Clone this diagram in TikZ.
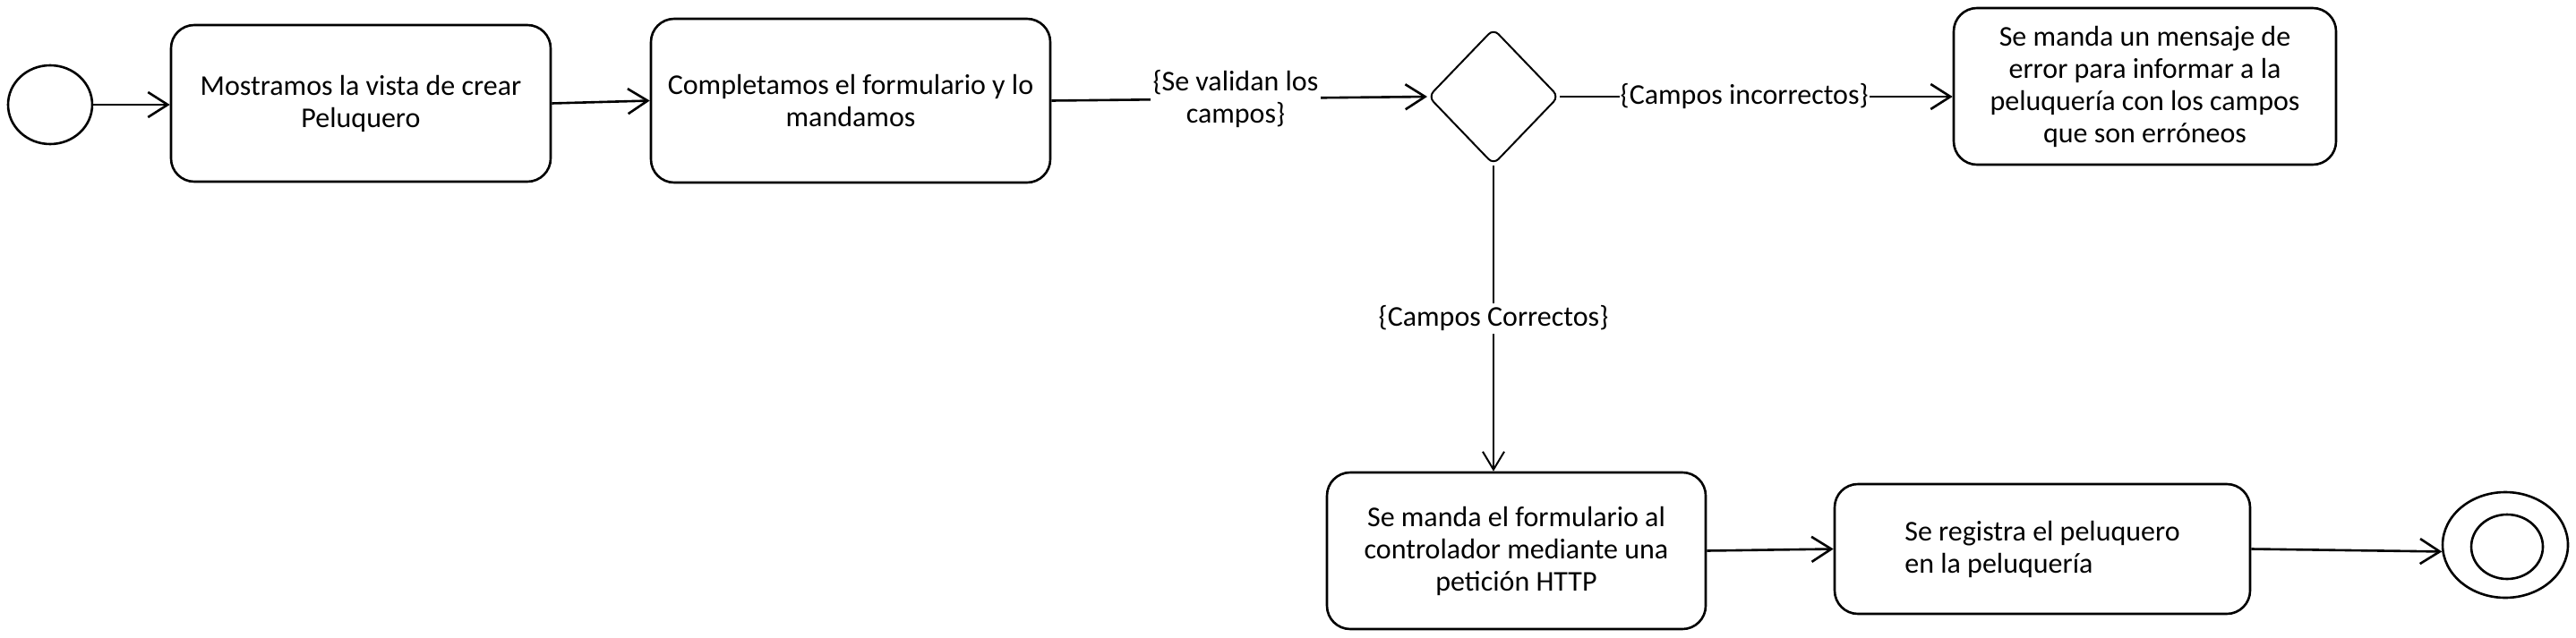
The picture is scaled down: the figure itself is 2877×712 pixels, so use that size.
\documentclass[tikz,border=0pt]{standalone}
\usepackage{fontspec}
\setmainfont{Carlito}
\usetikzlibrary{shapes.geometric,arrows.meta}
\tikzset{
  actbox/.style={draw, line width=2.6pt, rounded corners=26pt, align=center, inner sep=0pt},
  conn/.style={line width=2.6pt, -{Straight Barb[length=22pt,width=28pt,line width=2.6pt]}},
  thinconn/.style={line width=2pt, -{Straight Barb[length=20pt,width=24pt,line width=2pt]}},
  guard/.style={fill=white, inner sep=3pt, align=center},
}
\begin{document}
\begin{tikzpicture}[x=1pt,y=-1pt, font=\fontsize{32}{36}\selectfont]
\useasboundingbox[fill=white] (0,0) rectangle (2877,712);
% nodes
\node[ellipse, draw, line width=2.6pt, minimum width=94pt, minimum height=88pt, inner sep=0pt] (start) at (56,117) {};
\node[actbox, minimum width=424pt, minimum height=175pt] (b1) at (403,115.5) {Mostramos la vista de crear\\Peluquero};
\node[actbox, minimum width=446pt, minimum height=183pt] (b2) at (950,112.5) {Completamos el formulario y lo\\mandamos};
\node[diamond, draw, line width=2pt, rounded corners=8pt, minimum width=146pt, minimum height=152pt, inner sep=0pt] (dia) at (1668,108) {};
\node[actbox, minimum width=427pt, minimum height=175pt] (err) at (2395.5,96.5) {Se manda un mensaje de\\error para informar a la\\peluquería con los campos\\que son erróneos};
\node[actbox, minimum width=423pt, minimum height=175pt] (b4) at (1693.5,615.5) {Se manda el formulario al\\controlador mediante una\\petición HTTP};
\node[actbox, align=left, minimum width=464pt, minimum height=145pt] (b5) at (2281,613.5) {Se registra el peluquero\\en la peluquería};
\node[ellipse, draw, line width=2.6pt, minimum width=140pt, minimum height=118pt, inner sep=0pt] (end) at (2798,609) {};
\node[ellipse, draw, line width=2.6pt, minimum width=80pt, minimum height=72pt, inner sep=0pt] (endin) at (2800,611) {};
% connectors
\draw[conn] (start.east) -- (b1.west |- start.east);
\draw[conn] (b1.east) -- (b2.west);
\draw[conn] (b2.east) -- (dia.west)
  node[guard, pos=0.49] (lab1) {\{Se validan los\\campos\}};
\draw[conn] (dia.east) -- (err.west |- dia.east)
  node[guard, pos=0.47, inner sep=1pt] (lab2) {\{Campos incorrectos\}};
\draw[thinconn] (dia.south) -- (b4.north -| dia.south)
  node[guard, pos=0.5] (lab3) {\{Campos Correctos\}};
\draw[conn] (b4.east) -- (b5.west);
\draw[conn] (b5.east) -- (end.186);
\end{tikzpicture}
\end{document}
